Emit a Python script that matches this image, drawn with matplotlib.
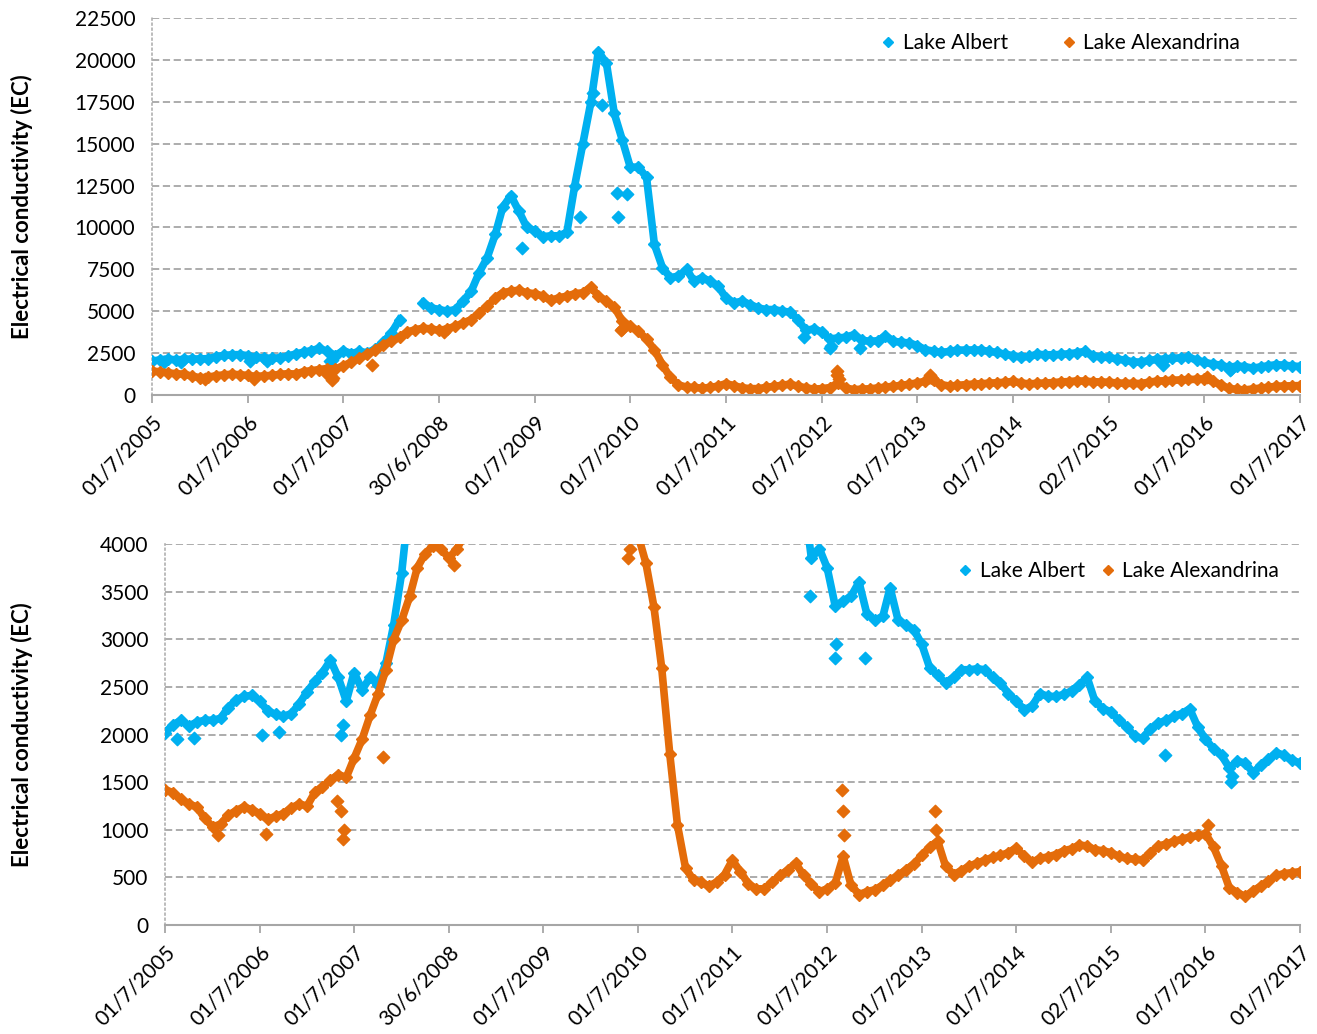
import numpy as np
import pandas as pd
import matplotlib
matplotlib.use('Agg')
import matplotlib.pyplot as plt
from matplotlib.lines import Line2D

plt.rcParams['font.family'] = ['Lato', 'DejaVu Sans']

##################################################
# Data (monthly readings)
##################################################

months = pd.date_range('2005-07-01', '2017-07-01', freq='MS')

albert = [
    2020, 2100, 2150, 2090, 2130, 2150,                                   # 2005 Jul-Dec
    2150, 2170, 2280, 2360, 2400, 2410, 2350, 2250, 2210, 2190, 2220, 2320,  # 2006
    2450, 2560, 2650, 2780, 2600, 2350, 2650, 2470, 2600, 2520, 2750, 3150,  # 2007
    3700, 4500, np.nan, np.nan, 5500, 5200, 5100, 5000, 5100, 5600, 6200, 7300,  # 2008
    8200, 9600, 11200, 11900, 11000, 10000, 9800, 9450, 9500, 9500, 9700, 12500,  # 2009
    15000, 17500, 20500, 19800, 16800, 15200, 13600, 13600, 13000, 9000, 7600, 7000,  # 2010
    7100, 7500, 6800, 7000, 6800, 6500, 5800, 5500, 5600, 5400, 5200, 5100,  # 2011
    5100, 5000, 4950, 4500, 3850, 3950, 3750, 3350, 3400, 3450, 3600, 3270,  # 2012
    3200, 3240, 3540, 3200, 3150, 3100, 2950, 2700, 2620, 2540, 2600, 2680,  # 2013
    2680, 2690, 2680, 2600, 2540, 2430, 2350, 2260, 2300, 2430, 2400, 2400,  # 2014
    2420, 2460, 2520, 2600, 2350, 2270, 2240, 2150, 2080, 1980, 1960, 2060,  # 2015
    2120, 2150, 2190, 2220, 2270, 2080, 1950, 1850, 1780, 1650, 1720, 1700,  # 2016
    1600, 1680, 1740, 1810, 1780, 1730, 1700,                              # 2017 Jan-Jul
]

alexandrina = [
    1420, 1390, 1320, 1270, 1240, 1120,
    1030, 1060, 1150, 1200, 1240, 1210, 1170, 1110, 1140, 1170, 1230, 1270,
    1250, 1400, 1450, 1520, 1580, 1550, 1750, 1950, 2200, 2420, 2680, 3000,
    3200, 3450, 3750, 3900, 3980, 3950, 3850, 3950, 4100, 4300, 4500, 4900,
    5300, 5800, 6100, 6200, 6250, 6100, 6050, 5900, 5650, 5800, 5900, 6050,
    6100, 6450, 5900, 5600, 5250, 4400, 4100, 3800, 3340, 2700, 1800, 1050,
    600, 470, 450, 410, 450, 530, 680, 560, 430, 380, 380, 450,
    520, 580, 650, 520, 430, 350, 380, 440, 720, 420, 320, 350,
    370, 420, 470, 520, 580, 640, 730, 820, 880, 620, 530, 570,
    620, 650, 680, 710, 730, 760, 810, 720, 660, 700, 715, 740,
    780, 800, 840, 830, 790, 780, 760, 720, 700, 690, 685, 760,
    830, 850, 880, 900, 925, 940, 960, 820, 620, 390, 340, 300,
    360, 410, 460, 520, 540, 550, 560,
]

# isolated readings off the main band
albert_out_dates = ['2005-08-15', '2005-10-20', '2006-07-10', '2006-09-15', '2007-05-10',
                    '2007-05-20', '2009-05-15', '2009-12-20', '2010-02-10', '2010-03-15',
                    '2010-05-10', '2010-05-14', '2010-06-18', '2012-04-25', '2012-08-01',
                    '2012-08-05', '2012-11-25', '2016-01-25', '2016-10-08', '2016-10-12']
albert_out = [1950, 1960, 2000, 2030, 2000, 2100, 8780, 10600, 18000, 17300,
              12060, 10600, 12000, 3450, 2800, 2950, 2800, 1780, 1500, 1560]

alex_out_dates = ['2006-01-20', '2006-07-25', '2007-04-25', '2007-05-10', '2007-05-20',
                  '2007-05-25', '2007-10-20', '2008-07-20', '2010-05-25', '2010-06-01',
                  '2012-08-28', '2012-08-30', '2012-09-05', '2013-08-20', '2013-08-25',
                  '2016-07-10']
alex_out = [950, 960, 1300, 1200, 900, 1000, 1760, 3780, 3850, 3950,
            1420, 1200, 950, 1200, 1000, 1050]

tick_labels = ['01/7/2005', '01/7/2006', '01/7/2007', '30/6/2008', '01/7/2009',
               '01/7/2010', '01/7/2011', '01/7/2012', '01/7/2013', '01/7/2014',
               '02/7/2015', '01/7/2016', '01/7/2017']

##################################################
# Plot
##################################################

c_albert = '#00b0f0'
c_alex = '#e46c0a'
grid_c = '#a6a6a6'

tick_pos = pd.to_datetime(tick_labels, format='%d/%m/%Y')
albert_out_dates = pd.to_datetime(albert_out_dates)
alex_out_dates = pd.to_datetime(alex_out_dates)

fig = plt.figure(figsize=(13.17, 10.34), dpi=100)
ax1 = fig.add_axes([0.1154, 0.618, 0.8717, 0.3646])
ax2 = fig.add_axes([0.1253, 0.1054, 0.8618, 0.3685])


def draw(ax, ymax, ystep):
    ax.plot(months, albert, color=c_albert, lw=5.5, marker='D', ms=6.5, zorder=3)
    ax.scatter(albert_out_dates, albert_out, color=c_albert, marker='D', s=40, zorder=3)
    ax.plot(months, alexandrina, color=c_alex, lw=5.5, marker='D', ms=6.5, zorder=4)
    ax.scatter(alex_out_dates, alex_out, color=c_alex, marker='D', s=40, zorder=4)

    ax.set_xlim(pd.Timestamp('2005-07-01'), pd.Timestamp('2017-07-01'))
    ax.set_ylim(0, ymax)
    ax.set_yticks(np.arange(0, ymax + 1, ystep))
    ax.set_xticks(tick_pos)
    ax.set_xticklabels(tick_labels, rotation=45, ha='right', rotation_mode='anchor')
    ax.tick_params(axis='x', length=6, width=1.3, color=grid_c, labelsize=15, pad=6)
    ax.tick_params(axis='y', length=0, labelsize=15, pad=12)

    ax.grid(axis='y', color=grid_c, ls=(0, (4, 2)), lw=1.3)
    ax.set_axisbelow(True)
    for s in ['top', 'right']:
        ax.spines[s].set_visible(False)
    ax.spines['bottom'].set_color(grid_c)
    ax.spines['bottom'].set_linewidth(1.5)
    ax.spines['bottom'].set_zorder(5)
    ax.spines['left'].set_color('#b0b0b0')
    ax.spines['left'].set_linestyle((0, (1, 2)))
    ax.spines['left'].set_linewidth(1.2)
    ax.set_ylabel('Electrical conductivity (EC)', fontsize=16, fontweight='bold')


draw(ax1, 22500, 2500)
draw(ax2, 4000, 500)
ax1.yaxis.set_label_coords(-0.104, 0.5)
ax2.yaxis.set_label_coords(-0.116, 0.5)

handles = [Line2D([], [], color=c_albert, marker='D', ls='none', ms=5),
           Line2D([], [], color=c_alex, marker='D', ls='none', ms=5)]
names = ['Lake Albert', 'Lake Alexandrina']

ax1.legend(handles, names, loc='center right', bbox_to_anchor=(0.955, 0.934), ncol=2,
           frameon=False, fontsize=15, handlelength=0.6, handletextpad=0.4,
           columnspacing=2.6, borderaxespad=0)
ax2.legend(handles, names, loc='center right', bbox_to_anchor=(0.989, 0.929), ncol=2,
           frameon=False, fontsize=15, handlelength=0.6, handletextpad=0.4,
           columnspacing=0.8, borderaxespad=0)

plt.savefig('out.png', dpi=100)
